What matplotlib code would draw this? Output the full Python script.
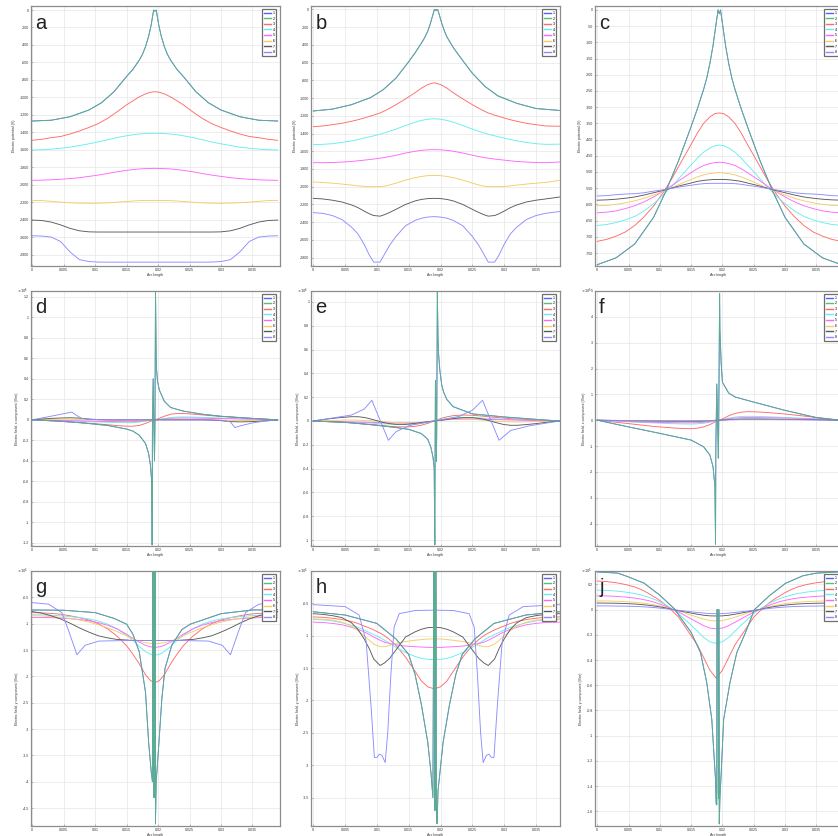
import matplotlib
matplotlib.use("Agg")
import matplotlib.pyplot as plt
from matplotlib.ticker import MultipleLocator, FixedLocator, FuncFormatter

plt.rcParams['font.family'] = ['Liberation Sans', 'DejaVu Sans']
plt.rcParams['mathtext.fontset'] = 'dejavusans'

W, H = 838, 836

SERIES = ['1', '2', '3', '4', '5', '6', '7', '8']
COLORS = ['#5c5cff', '#58bf76', '#ff6a6a', '#66eeee', '#ff66ff', '#f3cc68', '#5a5a5a', '#8c8cff']

# ---------------- common x grids (Arc length) ----------------
G = [0, 0.0015, 0.003, 0.0045, 0.006, 0.0075, 0.009, 0.0105, 0.012, 0.0135, 0.015, 0.016, 0.017, 0.018, 0.0188,
     0.0195, 0.0202, 0.021, 0.022, 0.023, 0.024, 0.0255, 0.027, 0.0285, 0.030, 0.0315, 0.033, 0.0345, 0.036, 0.0375, 0.039]
GB = [0, 0.0015, 0.003, 0.0045, 0.006, 0.007, 0.008, 0.0088, 0.0095, 0.0105, 0.0112, 0.012, 0.013, 0.0145, 0.016, 0.017, 0.018,
      0.019, 0.020, 0.021, 0.022, 0.0235, 0.025, 0.026, 0.0268, 0.0275, 0.0285, 0.0292, 0.030, 0.031, 0.032, 0.0335, 0.035, 0.0365, 0.0387]

# ---------------- panel a : electric potential ----------------
XT_A = [0, 0.003, 0.006, 0.009, 0.011, 0.013, 0.015, 0.016, 0.017, 0.0175, 0.018, 0.0185, 0.0189, 0.0192, 0.0193, 0.0195,
        0.0197, 0.0198, 0.0201, 0.0205, 0.021, 0.0215, 0.022, 0.023, 0.024, 0.026, 0.028, 0.030, 0.033, 0.036, 0.039]
YT_A = [-1271, -1262, -1222, -1145, -1062, -935, -760, -680, -575, -510, -420, -300, -170, -40, 0, -15,
        0, -40, -170, -300, -420, -510, -575, -680, -760, -935, -1062, -1145, -1222, -1262, -1271]
A3 = [-1492, -1480, -1462, -1448, -1420, -1385, -1345, -1300, -1240, -1165, -1085, -1040, -995, -960, -942,
      -935, -942, -960, -995, -1040, -1085, -1165, -1240, -1300, -1345, -1385, -1420, -1448, -1462, -1480, -1492]
A4 = [-1603, -1600, -1593, -1583, -1570, -1552, -1532, -1510, -1485, -1460, -1440, -1428, -1420, -1415, -1413,
      -1412, -1413, -1415, -1420, -1428, -1440, -1460, -1485, -1510, -1532, -1552, -1570, -1583, -1593, -1600, -1603]
A5 = [-1950, -1948, -1944, -1938, -1930, -1920, -1905, -1890, -1872, -1852, -1836, -1827, -1820, -1816, -1814,
      -1813, -1814, -1816, -1820, -1827, -1836, -1852, -1872, -1890, -1905, -1920, -1930, -1938, -1944, -1948, -1950]
A6 = [-2180, -2182, -2190, -2200, -2207, -2211, -2213, -2212, -2208, -2200, -2192, -2187, -2183, -2181, -2180,
      -2180, -2180, -2181, -2183, -2187, -2192, -2200, -2208, -2212, -2213, -2211, -2207, -2200, -2190, -2182, -2180]
A7 = [-2405, -2410, -2428, -2460, -2500, -2528, -2540, -2542, -2542, -2542, -2542, -2542, -2542, -2542, -2542,
      -2542, -2542, -2542, -2542, -2542, -2542, -2542, -2542, -2542, -2540, -2528, -2500, -2460, -2428, -2410, -2405]
A8 = [-2585, -2588, -2600, -2650, -2770, -2858, -2880, -2886, -2887, -2887, -2887, -2887, -2887, -2887, -2887,
      -2887, -2887, -2887, -2887, -2887, -2887, -2887, -2887, -2886, -2880, -2858, -2770, -2650, -2600, -2588, -2585]

# ---------------- panel b : electric potential ----------------
XT_B = [0, 0.003, 0.006, 0.009, 0.011, 0.013, 0.015, 0.016, 0.017, 0.0175, 0.018, 0.0184, 0.0188, 0.019, 0.0191,
        0.0193, 0.0194, 0.0196, 0.0198, 0.0202, 0.0207, 0.021, 0.022, 0.023, 0.025, 0.027, 0.029, 0.032, 0.035, 0.0387]
YT_B = [-1146, -1125, -1075, -995, -905, -775, -590, -490, -380, -320, -245, -160, -60, -10, 0,
        -15, 0, -10, -60, -160, -260, -310, -430, -530, -720, -870, -975, -1060, -1118, -1140]
B3 = [-1323, -1315, -1300, -1285, -1262, -1245, -1225, -1207, -1193, -1168, -1145, -1115, -1075, -1010, -940, -888, -848,
      -827, -848, -888, -940, -1010, -1075, -1115, -1145, -1168, -1193, -1207, -1225, -1245, -1262, -1285, -1300, -1315, -1318]
B4 = [-1526, -1522, -1515, -1500, -1483, -1468, -1452, -1438, -1426, -1408, -1392, -1375, -1350, -1310, -1272, -1252, -1239,
      -1233, -1239, -1252, -1272, -1310, -1350, -1375, -1392, -1408, -1426, -1438, -1452, -1468, -1483, -1500, -1515, -1522, -1520]
B5 = [-1729, -1729, -1727, -1722, -1715, -1708, -1700, -1694, -1688, -1678, -1670, -1660, -1645, -1620, -1600, -1590, -1584,
      -1582, -1584, -1590, -1600, -1620, -1645, -1660, -1670, -1678, -1688, -1694, -1700, -1708, -1715, -1722, -1727, -1729, -1721]
B6 = [-1947, -1952, -1960, -1970, -1982, -1990, -1996, -1999, -2000, -1998, -1993, -1980, -1960, -1925, -1898, -1884, -1875,
      -1872, -1875, -1884, -1898, -1925, -1960, -1980, -1993, -1998, -2000, -1999, -1996, -1990, -1982, -1970, -1960, -1952, -1928]
B7 = [-2131, -2138, -2152, -2172, -2205, -2235, -2275, -2305, -2325, -2332, -2315, -2290, -2255, -2200, -2160, -2143, -2134,
      -2131, -2134, -2143, -2160, -2200, -2255, -2290, -2315, -2332, -2325, -2305, -2275, -2235, -2205, -2172, -2152, -2138, -2116]
B8 = [-2292, -2300, -2325, -2370, -2455, -2530, -2650, -2770, -2850, -2850, -2760, -2660, -2560, -2440, -2380, -2355, -2342,
      -2337, -2342, -2355, -2380, -2440, -2560, -2660, -2760, -2850, -2850, -2770, -2650, -2530, -2455, -2370, -2325, -2300, -2280]

# ---------------- panel c : electric potential ----------------
YT_C = [-786, -765, -722, -640, -558, -465, -360, -305, -245, -210, -165, -110, -55, -15, 0, -12,
        0, -15, -55, -110, -165, -210, -245, -305, -360, -465, -558, -640, -722, -765, -786]
C3 = [-714, -708, -698, -685, -665, -638, -605, -565, -518, -466, -415, -380, -350, -330, -320,
      -318, -320, -330, -350, -380, -415, -466, -518, -565, -605, -638, -665, -685, -698, -708, -714]
C4 = [-665, -662, -656, -648, -637, -620, -598, -572, -543, -510, -478, -457, -439, -426, -419,
      -417, -419, -426, -439, -457, -478, -510, -543, -572, -598, -620, -637, -648, -656, -662, -665]
C5 = [-626, -624, -620, -613, -604, -592, -577, -560, -541, -521, -502, -490, -480, -474, -471,
      -470, -471, -474, -480, -490, -502, -521, -541, -560, -577, -592, -604, -613, -620, -624, -626]
C6 = [-604, -603, -600, -595, -589, -581, -571, -560, -548, -535, -523, -515, -509, -505, -503,
      -502, -503, -505, -509, -515, -523, -535, -548, -560, -571, -581, -589, -595, -600, -603, -604]
C7 = [-587, -586, -584, -581, -577, -571, -564, -557, -549, -541, -534, -529, -526, -524, -523,
      -523, -523, -524, -526, -529, -534, -541, -549, -557, -564, -571, -577, -581, -584, -586, -587]
C8 = [-574, -573, -570, -568, -567, -564, -559, -555, -550, -545, -541, -538, -536, -535, -535,
      -535, -535, -535, -536, -538, -541, -545, -550, -555, -559, -564, -567, -568, -570, -573, -574]

# ---------------- panel d : E_x (x1e6) ----------------
XT_D = [0, 0.004, 0.008, 0.012, 0.015, 0.016, 0.017, 0.018, 0.0185, 0.0188, 0.019, 0.01906, 0.0191, 0.01922, 0.0193,
        0.01943, 0.0195, 0.01959, 0.0197, 0.01975, 0.0199, 0.0202, 0.021, 0.022, 0.024, 0.027, 0.030, 0.034, 0.039]
YT_D = [0, -0.012, -0.03, -0.055, -0.09, -0.11, -0.15, -0.23, -0.33, -0.45, -0.62, -1.22, -0.05, 0.4, 0.05,
        -0.4, -0.05, 1.25, 0.6, 0.5, 0.38, 0.29, 0.18, 0.12, 0.085, 0.055, 0.035, 0.018, 0]
D3 = [0, -0.005, -0.01, -0.015, -0.02, -0.027, -0.033, -0.04, -0.048, -0.056, -0.062, -0.062, -0.055, -0.035, -0.015,
      0, 0.015, 0.035, 0.055, 0.062, 0.062, 0.056, 0.048, 0.04, 0.033, 0.027, 0.02, 0.015, 0.01, 0.005, 0]
D4 = [0, -0.003, -0.006, -0.009, -0.012, -0.015, -0.018, -0.021, -0.024, -0.027, -0.028, -0.027, -0.022, -0.013, -0.005,
      0, 0.005, 0.013, 0.022, 0.027, 0.028, 0.027, 0.024, 0.021, 0.018, 0.015, 0.012, 0.009, 0.006, 0.003, 0]
D5 = [0, -0.002, -0.004, -0.006, -0.008, -0.01, -0.012, -0.014, -0.016, -0.017, -0.018, -0.017, -0.014, -0.008, -0.003,
      0, 0.003, 0.008, 0.014, 0.017, 0.018, 0.017, 0.016, 0.014, 0.012, 0.01, 0.008, 0.006, 0.004, 0.002, 0]
D6 = [0, 0.002, 0.004, 0.006, 0.006, 0.004, 0.002, 0, -0.002, -0.005, -0.008, -0.009, -0.008, -0.005, -0.002,
      0, 0.002, 0.005, 0.008, 0.009, 0.008, 0.005, 0.002, 0, -0.002, -0.004, -0.006, -0.006, -0.004, -0.002, 0]
D7 = [0, 0.008, 0.014, 0.018, 0.02, 0.017, 0.008, 0.002, 0, 0, 0, 0, 0, 0, 0,
      0, 0, 0, 0, 0, 0, 0, 0, -0.002, -0.008, -0.017, -0.02, -0.018, -0.014, -0.008, 0]
XL_D = [0, 0.0028, 0.0049, 0.0063, 0.007, 0.0078, 0.009, 0.012, 0.027, 0.030, 0.0315, 0.0322, 0.033, 0.035, 0.037, 0.039]
YL_D = [0, 0.033, 0.059, 0.075, 0.045, 0.015, 0.004, 0, 0, -0.004, -0.02, -0.075, -0.06, -0.03, -0.012, 0]

# ---------------- panel e : E_x (x1e6) ----------------
XT_E = [0, 0.005, 0.01, 0.013, 0.015, 0.017, 0.018, 0.0185, 0.0188, 0.019, 0.0191, 0.01915, 0.0192, 0.0193, 0.01935,
        0.0194, 0.0195, 0.01955, 0.0196, 0.0197, 0.0199, 0.0202, 0.0205, 0.021, 0.022, 0.025, 0.03, 0.035, 0.0387]
YT_E = [0, -0.011, -0.036, -0.055, -0.07, -0.106, -0.154, -0.224, -0.3, -0.39, -1.04, -0.2, 0.34, 0.0, -0.34,
        -0.1, 1.08, 0.9, 0.7, 0.56, 0.42, 0.3, 0.24, 0.18, 0.12, 0.06, 0.034, 0.014, 0]
E3 = [0, -0.004, -0.008, -0.012, -0.016, -0.02, -0.024, -0.028, -0.031, -0.036, -0.04, -0.044, -0.048, -0.05, -0.045, -0.035, -0.02,
      0, 0.02, 0.035, 0.045, 0.05, 0.048, 0.044, 0.04, 0.036, 0.031, 0.028, 0.024, 0.02, 0.016, 0.012, 0.008, 0.004, 0]
E4 = [0, -0.003, -0.005, -0.007, -0.01, -0.012, -0.014, -0.017, -0.019, -0.022, -0.024, -0.026, -0.029, -0.03, -0.027, -0.021, -0.012,
      0, 0.012, 0.021, 0.027, 0.03, 0.029, 0.026, 0.024, 0.022, 0.019, 0.017, 0.014, 0.012, 0.01, 0.007, 0.005, 0.003, 0]
E5 = [0, -0.002, -0.004, -0.006, -0.008, -0.009, -0.01, -0.011, -0.012, -0.013, -0.014, -0.015, -0.016, -0.016, -0.014, -0.011, -0.006,
      0, 0.006, 0.011, 0.014, 0.016, 0.016, 0.015, 0.014, 0.013, 0.012, 0.011, 0.01, 0.009, 0.008, 0.006, 0.004, 0.002, 0]
E6 = [0, 0.003, 0.005, 0.007, 0.008, 0.007, 0.005, 0.003, 0.001, -0.003, -0.006, -0.01, -0.014, -0.018, -0.016, -0.012, -0.006,
      0, 0.006, 0.012, 0.016, 0.018, 0.014, 0.01, 0.006, 0.003, -0.001, -0.003, -0.005, -0.007, -0.008, -0.007, -0.005, -0.003, 0]
E7 = [0, 0.012, 0.022, 0.03, 0.036, 0.036, 0.03, 0.02, 0.01, -0.005, -0.015, -0.022, -0.028, -0.028, -0.02, -0.013, -0.006,
      0, 0.006, 0.013, 0.02, 0.028, 0.028, 0.022, 0.015, 0.005, -0.01, -0.02, -0.03, -0.036, -0.036, -0.03, -0.022, -0.012, 0]
XL_E = [0, 0.003, 0.006, 0.008, 0.0092, 0.0118, 0.013, 0.015, 0.017, 0.019, 0.021, 0.023, 0.025, 0.0266, 0.0292, 0.031, 0.034, 0.0387]
YL_E = [0, 0.025, 0.05, 0.1, 0.174, -0.162, -0.09, -0.04, -0.018, 0, 0.018, 0.04, 0.09, 0.174, -0.162, -0.08, -0.04, 0]

# ---------------- panel f : E_x (x1e5) ----------------
XT_F = [0, 0.005, 0.01, 0.015, 0.017, 0.018, 0.0185, 0.0188, 0.0189, 0.01895, 0.0191, 0.0192, 0.01935, 0.0194,
        0.01955, 0.0196, 0.0198, 0.020, 0.021, 0.022, 0.025, 0.03, 0.035, 0.0385]
YT_F = [0, -0.26, -0.51, -0.77, -1.03, -1.35, -1.8, -2.56, -4.8, -1.0, 1.4, 0.3, -1.47, -0.5,
        4.9, 3.5, 2.2, 1.47, 1.05, 0.9, 0.7, 0.38, 0.1, 0]
F3 = [0, -0.04, -0.08, -0.12, -0.16, -0.2, -0.24, -0.27, -0.30, -0.32, -0.33, -0.31, -0.26, -0.17, -0.07,
      0, 0.07, 0.17, 0.26, 0.31, 0.33, 0.32, 0.30, 0.27, 0.24, 0.2, 0.16, 0.12, 0.08, 0.04, 0]
F4 = [0, -0.02, -0.04, -0.06, -0.075, -0.09, -0.105, -0.12, -0.135, -0.145, -0.15, -0.14, -0.12, -0.08, -0.03,
      0, 0.03, 0.08, 0.12, 0.14, 0.15, 0.145, 0.135, 0.12, 0.105, 0.09, 0.075, 0.06, 0.04, 0.02, 0]
F5 = [0, -0.015, -0.03, -0.045, -0.06, -0.07, -0.08, -0.09, -0.095, -0.1, -0.1, -0.095, -0.08, -0.055, -0.02,
      0, 0.02, 0.055, 0.08, 0.095, 0.1, 0.1, 0.095, 0.09, 0.08, 0.07, 0.06, 0.045, 0.03, 0.015, 0]
F6 = [0, -0.01, -0.02, -0.028, -0.035, -0.042, -0.048, -0.053, -0.057, -0.06, -0.06, -0.057, -0.048, -0.033, -0.012,
      0, 0.012, 0.033, 0.048, 0.057, 0.06, 0.06, 0.057, 0.053, 0.048, 0.042, 0.035, 0.028, 0.02, 0.01, 0]
F7 = [0, -0.006, -0.012, -0.018, -0.023, -0.028, -0.032, -0.035, -0.038, -0.04, -0.04, -0.038, -0.032, -0.022, -0.008,
      0, 0.008, 0.022, 0.032, 0.038, 0.04, 0.04, 0.038, 0.035, 0.032, 0.028, 0.023, 0.018, 0.012, 0.006, 0]
F8 = [0, -0.004, -0.008, -0.012, -0.015, -0.018, -0.021, -0.023, -0.025, -0.026, -0.027, -0.025, -0.021, -0.015, -0.005,
      0, 0.005, 0.015, 0.021, 0.025, 0.027, 0.026, 0.025, 0.023, 0.021, 0.018, 0.015, 0.012, 0.008, 0.004, 0]

# ---------------- panel g : E_y (x1e5) ----------------
XT_G = [0, 0.005, 0.01, 0.013, 0.015, 0.016, 0.017, 0.018, 0.0185, 0.0189, 0.0191, 0.01912, 0.01925, 0.01928,
        0.01945, 0.01948, 0.01955, 0.01958, 0.0197, 0.0201, 0.0206, 0.0211, 0.0222, 0.0238, 0.0251, 0.030, 0.035, 0.039]
YT_G = [-0.74, -0.745, -0.79, -0.9, -1.01, -1.2, -1.53, -2.3, -3.26, -3.8, -4.0, 0.5, 0.5, -4.3,
        -4.3, 0.5, 0.5, -4.8, -4.0, -3.32, -2.42, -1.85, -1.4, -1.11, -1.01, -0.81, -0.74, -0.737]
G3 = [-0.79, -0.795, -0.805, -0.82, -0.85, -0.885, -0.93, -1.0, -1.1, -1.24, -1.42, -1.58, -1.76, -1.97, -2.08,
      -2.12, -2.08, -1.97, -1.76, -1.58, -1.42, -1.24, -1.1, -1.0, -0.93, -0.885, -0.85, -0.82, -0.805, -0.795, -0.79]
G4 = [-0.83, -0.833, -0.84, -0.85, -0.865, -0.885, -0.91, -0.95, -1.01, -1.1, -1.22, -1.32, -1.43, -1.53, -1.58,
      -1.6, -1.58, -1.53, -1.43, -1.32, -1.22, -1.1, -1.01, -0.95, -0.91, -0.885, -0.865, -0.85, -0.84, -0.833, -0.83]
G5 = [-0.88, -0.882, -0.886, -0.893, -0.905, -0.92, -0.945, -0.98, -1.03, -1.1, -1.2, -1.28, -1.35, -1.41, -1.44,
      -1.45, -1.44, -1.41, -1.35, -1.28, -1.2, -1.1, -1.03, -0.98, -0.945, -0.92, -0.905, -0.893, -0.886, -0.882, -0.88]
G6 = [-0.85, -0.855, -0.865, -0.88, -0.9, -0.93, -0.97, -1.02, -1.08, -1.15, -1.23, -1.29, -1.33, -1.36, -1.375,
      -1.38, -1.375, -1.36, -1.33, -1.29, -1.23, -1.15, -1.08, -1.02, -0.97, -0.93, -0.9, -0.88, -0.865, -0.855, -0.85]
G7 = [-0.77, -0.8, -0.85, -0.91, -0.99, -1.08, -1.16, -1.23, -1.27, -1.3, -1.31, -1.32, -1.32, -1.32, -1.32,
      -1.32, -1.32, -1.32, -1.32, -1.32, -1.31, -1.3, -1.27, -1.23, -1.16, -1.08, -0.99, -0.91, -0.85, -0.8, -0.77]
XL_G = [0, 0.0026, 0.0047, 0.0058, 0.0071, 0.0084, 0.0106, 0.015, 0.0193, 0.024, 0.028, 0.0302, 0.0315, 0.0328, 0.0339, 0.036, 0.039]
YL_G = [-0.6, -0.63, -0.79, -1.14, -1.59, -1.41, -1.33, -1.32, -1.32, -1.32, -1.33, -1.41, -1.59, -1.14, -0.79, -0.63, -0.6]

# ---------------- panel h : E_y (x1e5) ----------------
XT_H = [0, 0.005, 0.01, 0.013, 0.015, 0.016, 0.017, 0.018, 0.0185, 0.0188, 0.01895, 0.019, 0.0191, 0.01915, 0.0192,
        0.0193, 0.01935, 0.0194, 0.01947, 0.0196, 0.0199, 0.0204, 0.0214, 0.0224, 0.0234, 0.0254, 0.0284, 0.0334, 0.0387]
YT_H = [-0.63, -0.68, -0.81, -1.05, -1.29, -1.6, -2.07, -2.65, -3.12, -3.5, 0.3, 0.3, -3.7, -3.7, 0.3,
        0.3, -3.6, -3.9, -3.9, -3.4, -3.12, -2.65, -2.07, -1.6, -1.29, -1.05, -0.81, -0.68, -0.63]
H3 = [-0.71, -0.715, -0.73, -0.75, -0.78, -0.81, -0.85, -0.88, -0.91, -0.96, -1.0, -1.06, -1.15, -1.33, -1.55, -1.7, -1.79,
      -1.82, -1.79, -1.7, -1.55, -1.33, -1.15, -1.06, -1.0, -0.96, -0.91, -0.88, -0.85, -0.81, -0.78, -0.75, -0.73, -0.715, -0.71]
H4 = [-0.75, -0.755, -0.77, -0.8, -0.84, -0.87, -0.91, -0.95, -0.98, -1.03, -1.07, -1.12, -1.18, -1.26, -1.32, -1.35, -1.365,
      -1.37, -1.365, -1.35, -1.32, -1.26, -1.18, -1.12, -1.07, -1.03, -0.98, -0.95, -0.91, -0.87, -0.84, -0.8, -0.77, -0.755, -0.75]
H5 = [-0.79, -0.795, -0.81, -0.83, -0.87, -0.9, -0.94, -0.98, -1.02, -1.07, -1.1, -1.12, -1.14, -1.16, -1.17, -1.175, -1.18,
      -1.18, -1.18, -1.175, -1.17, -1.16, -1.14, -1.12, -1.1, -1.07, -1.02, -0.98, -0.94, -0.9, -0.87, -0.83, -0.81, -0.795, -0.79]
H6 = [-0.74, -0.745, -0.76, -0.79, -0.85, -0.92, -1.0, -1.07, -1.13, -1.17, -1.17, -1.15, -1.12, -1.09, -1.07, -1.06, -1.05,
      -1.05, -1.05, -1.06, -1.07, -1.09, -1.12, -1.15, -1.17, -1.17, -1.13, -1.07, -1.0, -0.92, -0.85, -0.79, -0.76, -0.745, -0.74]
H7 = [-0.66, -0.67, -0.69, -0.72, -0.8, -0.9, -1.05, -1.2, -1.36, -1.46, -1.42, -1.35, -1.22, -1.02, -0.94, -0.9, -0.875,
      -0.87, -0.875, -0.9, -0.94, -1.02, -1.22, -1.35, -1.42, -1.46, -1.36, -1.2, -1.05, -0.9, -0.8, -0.72, -0.69, -0.67, -0.66]
XL_H = [0, 0.005, 0.0072, 0.0083, 0.0091, 0.0096, 0.0100, 0.0104, 0.0108, 0.0113, 0.0117, 0.0122, 0.0127, 0.0135, 0.016, 0.019,
        0.022, 0.0245, 0.0253, 0.0258, 0.0263, 0.0267, 0.0272, 0.0276, 0.0280, 0.0284, 0.0289, 0.0297, 0.0308, 0.033, 0.0387]
YL_H = [-0.52, -0.55, -0.68, -1.08, -2.12, -2.88, -2.88, -2.83, -2.85, -2.96, -2.5, -1.6, -0.87, -0.66, -0.61, -0.605,
        -0.61, -0.66, -0.87, -1.6, -2.5, -2.96, -2.85, -2.83, -2.88, -2.88, -2.12, -1.08, -0.68, -0.55, -0.52]

# ---------------- panel j : E_y (x1e5) ----------------
XT_J = [0, 0.0033, 0.005, 0.0075, 0.01, 0.0123, 0.015, 0.0165, 0.0175, 0.0183, 0.0189, 0.019, 0.0191, 0.01912, 0.0193,
        0.01935, 0.0194, 0.01942, 0.0195, 0.0196, 0.0198, 0.0202, 0.0212, 0.0223, 0.0237, 0.0251, 0.0276, 0.0301, 0.0329, 0.035, 0.0387]
YT_J = [0.30, 0.29, 0.26, 0.21, 0.115, 0.008, -0.18, -0.34, -0.58, -0.87, -1.35, -1.54, -1.55, 0.0, 0.0,
        -1.45, -1.5, 0.0, -1.70, -1.5, -1.3, -0.87, -0.58, -0.34, -0.18, 0.0, 0.115, 0.21, 0.27, 0.29, 0.30]
J3 = [0.227, 0.223, 0.214, 0.2, 0.18, 0.16, 0.135, 0.11, 0.09, 0.055, 0.025, -0.01, -0.06, -0.17, -0.28, -0.38, -0.48,
      -0.544, -0.48, -0.38, -0.28, -0.17, -0.06, -0.01, 0.025, 0.055, 0.09, 0.11, 0.135, 0.16, 0.18, 0.2, 0.214, 0.223, 0.227]
J4 = [0.155, 0.153, 0.148, 0.14, 0.128, 0.117, 0.102, 0.088, 0.074, 0.05, 0.03, 0.005, -0.03, -0.1, -0.17, -0.22, -0.255,
      -0.267, -0.255, -0.22, -0.17, -0.1, -0.03, 0.005, 0.03, 0.05, 0.074, 0.088, 0.102, 0.117, 0.128, 0.14, 0.148, 0.153, 0.155]
J5 = [0.11, 0.109, 0.106, 0.1, 0.092, 0.084, 0.074, 0.064, 0.053, 0.036, 0.022, 0.004, -0.018, -0.06, -0.1, -0.127, -0.146,
      -0.152, -0.146, -0.127, -0.1, -0.06, -0.018, 0.004, 0.022, 0.036, 0.053, 0.064, 0.074, 0.084, 0.092, 0.1, 0.106, 0.109, 0.11]
J6 = [0.07, 0.069, 0.067, 0.064, 0.059, 0.054, 0.048, 0.041, 0.034, 0.024, 0.014, 0.003, -0.01, -0.035, -0.06, -0.075, -0.086,
      -0.09, -0.086, -0.075, -0.06, -0.035, -0.01, 0.003, 0.014, 0.024, 0.034, 0.041, 0.048, 0.054, 0.059, 0.064, 0.067, 0.069, 0.07]
J7 = [0.053, 0.052, 0.051, 0.049, 0.045, 0.041, 0.036, 0.031, 0.026, 0.018, 0.011, 0.002, -0.008, -0.022, -0.036, -0.044, -0.049,
      -0.05, -0.049, -0.044, -0.036, -0.022, -0.008, 0.002, 0.011, 0.018, 0.026, 0.031, 0.036, 0.041, 0.045, 0.049, 0.051, 0.052, 0.053]
J8 = [0.03, 0.03, 0.029, 0.028, 0.026, 0.024, 0.021, 0.018, 0.015, 0.01, 0.006, 0.001, -0.005, -0.014, -0.022, -0.027, -0.031,
      -0.032, -0.031, -0.027, -0.022, -0.014, -0.005, 0.001, 0.006, 0.01, 0.015, 0.018, 0.021, 0.024, 0.026, 0.028, 0.029, 0.03, 0.03]

YLAB_V = 'Electric potential (V)'
YLAB_EX = 'Electric field, x component (V/m)'
YLAB_EY = 'Electric field, y component (V/m)'

# (letter, teal x, teal y, [(x, y) for series 3..8], ylabel, ylim, ystep, exponent, col, row)
PANELS = [
    ('a', XT_A, YT_A, [(G, A3), (G, A4), (G, A5), (G, A6), (G, A7), (G, A8)], YLAB_V, (-2931, 46), 200, None, 0, 0),
    ('b', XT_B, YT_B, [(GB, B3), (GB, B4), (GB, B5), (GB, B6), (GB, B7), (GB, B8)], YLAB_V, (-2894, 38), 200, None, 1, 0),
    ('c', XT_A, YT_C, [(G, C3), (G, C4), (G, C5), (G, C6), (G, C7), (G, C8)], YLAB_V, (-790, 12), 50, None, 2, 0),
    ('d', XT_D, YT_D, [(G, D3), (G, D4), (G, D5), (G, D6), (G, D7), (XL_D, YL_D)], YLAB_EX, (-1.23, 1.256), 0.2, 6, 0, 1),
    ('e', XT_E, YT_E, [(GB, E3), (GB, E4), (GB, E5), (GB, E6), (GB, E7), (XL_E, YL_E)], YLAB_EX, (-1.05, 1.092), 0.2, 6, 1, 1),
    ('f', XT_F, YT_F, [(G, F3), (G, F4), (G, F5), (G, F6), (G, F7), (G, F8)], YLAB_EX, (-4.87, 5.0), 1, 5, 2, 1),
    ('g', XT_G, YT_G, [(G, G3), (G, G4), (G, G5), (G, G6), (G, G7), (XL_G, YL_G)], YLAB_EY, (-4.84, 0.0), 0.5, 5, 0, 2),
    ('h', XT_H, YT_H, [(GB, H3), (GB, H4), (GB, H5), (GB, H6), (GB, H7), (XL_H, YL_H)], YLAB_EY, (-3.94, 0.0), 0.5, 5, 1, 2),
    ('j', XT_J, YT_J, [(GB, J3), (GB, J4), (GB, J5), (GB, J6), (GB, J7), (GB, J8)], YLAB_EY, (-1.717, 0.307), 0.2, 5, 2, 2),
]

COL_PX = [(30.7, 279.5), (311.0, 559.5), (594.7, 842.0)]
ROW_PX = [(6.0, 266.0), (291.0, 546.0), (571.0, 826.0)]
XLIMS = [(-0.00025, 0.0393), (-0.00036, 0.0387), (-0.0004, 0.0391)]

TICK_FS = 2.6
SPINE_C = '#8c8c8c'
LW = 0.65


def fmt(v, pos):
    if abs(v) < 1e-12:
        return '0'
    return '%g' % round(v, 6)


fig = plt.figure(figsize=(W / 100, H / 100), dpi=100)
fig.patch.set_facecolor('white')

for letter, xt, yt, others, ylab, ylim, ystep, expo, col, row in PANELS:
    l, r = COL_PX[col]
    t, b = ROW_PX[row]
    ax = fig.add_axes([l / W, 1 - b / H, (r - l) / W, (b - t) / H])
    ax.set_xlim(*XLIMS[col])
    ax.set_ylim(*ylim)
    ax.grid(True, color='#e6e6e6', linewidth=0.5, zorder=0)
    ax.set_axisbelow(True)

    handles = []
    l1, = ax.plot(xt, yt, color=COLORS[0], lw=LW, zorder=4)
    l2, = ax.plot(xt, yt, color=COLORS[1], lw=LW, alpha=0.85, zorder=5)
    handles += [l1, l2]
    for k, (xs, ys) in enumerate(others):
        ln, = ax.plot(xs, ys, color=COLORS[k + 2], lw=LW, zorder=3)
        handles.append(ln)

    ax.xaxis.set_major_locator(MultipleLocator(0.005))
    if ylim[1] <= 0.0:
        ticks = []
        v = -ystep
        while v >= ylim[0]:
            ticks.append(v)
            v -= ystep
        ax.yaxis.set_major_locator(FixedLocator(ticks))
    else:
        ax.yaxis.set_major_locator(MultipleLocator(ystep))
    ax.xaxis.set_major_formatter(FuncFormatter(fmt))
    ax.yaxis.set_major_formatter(FuncFormatter(fmt))
    ax.tick_params(axis='both', labelsize=TICK_FS, length=1.5, width=0.4, color=SPINE_C,
                   labelcolor='#333333', pad=1.2, direction='in')
    for s in ax.spines.values():
        s.set_color(SPINE_C)
        s.set_linewidth(0.9)

    ax.set_xlabel('Arc length', fontsize=TICK_FS, color='#333333', labelpad=0.8)
    ax.set_ylabel(ylab, fontsize=TICK_FS, color='#333333', labelpad=2.5)

    if expo is not None:
        ax.text(-0.012, 1.0, r'$\times10^{%d}$' % expo, transform=ax.transAxes,
                ha='right', va='center', fontsize=TICK_FS, color='#333333')

    ax.text(0.018, 0.912, letter, transform=ax.transAxes, fontsize=14.5,
            color='#222222', ha='left', va='baseline')

    leg = ax.legend(handles, SERIES, loc='upper right', fontsize=2.6, frameon=True, fancybox=False,
                    handlelength=2.0, handletextpad=0.5, labelspacing=0.45, borderpad=0.45,
                    borderaxespad=0.9, framealpha=1.0)
    leg.get_frame().set_edgecolor('#6e6e6e')
    leg.get_frame().set_linewidth(0.9)
    for lh in leg.get_lines():
        lh.set_linewidth(1.0)
        lh.set_alpha(1.0)

fig.savefig('out.png', dpi=100, facecolor='white')
